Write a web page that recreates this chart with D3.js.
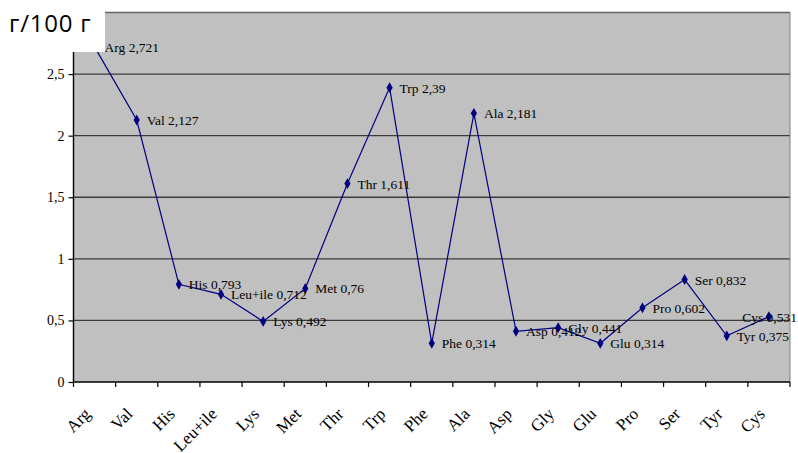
<!DOCTYPE html>
<html>
<head>
<meta charset="utf-8">
<script src="https://cdn.jsdelivr.net/npm/d3@7"></script>
<style>
  html, body { margin: 0; padding: 0; background: #fff; }
  svg { display: block; }
</style>
</head>
<body>
<svg id="chart" width="798" height="453"></svg>
<script>
// Amino acid content, g per 100 g
const aminoAcids = ["Arg", "Val", "His", "Leu+ile", "Lys", "Met", "Thr", "Trp", "Phe",
                    "Ala", "Asp", "Gly", "Glu", "Pro", "Ser", "Tyr", "Cys"];
const contents = [2.721, 2.127, 0.793, 0.712, 0.492, 0.76, 1.611, 2.39, 0.314,
                  2.181, 0.412, 0.441, 0.314, 0.602, 0.832, 0.375, 0.531];
const yTicks = [0, 0.5, 1, 1.5, 2, 2.5, 3];
const unitTitle = "г/100 г";

const W = 798, H = 453;
const plot = { left: 73.5, right: 790, top: 12.5, bottom: 382 };
const serif = "'Liberation Serif', 'Times New Roman', serif";
const fmt = v => String(v).replace(".", ",");

const svg = d3.select("#chart");

const x = d3.scaleBand().domain(aminoAcids).range([plot.left, plot.right]);
const y = d3.scaleLinear().domain([0, 3]).range([plot.bottom, plot.top]);

// plot area
svg.append("rect")
  .attr("x", plot.left).attr("y", plot.top)
  .attr("width", plot.right - plot.left).attr("height", plot.bottom - plot.top)
  .attr("fill", "#c0c0c0");

// horizontal gridlines
svg.append("g").selectAll("line").data(yTicks.filter(d => d > 0)).join("line")
  .attr("x1", plot.left).attr("x2", plot.right)
  .attr("y1", d => y(d)).attr("y2", d => y(d))
  .attr("stroke", d => d === 3 ? "#666" : "#3a3a3a")
  .attr("stroke-width", d => d === 3 ? 1.5 : 1.4);

// right frame edge
svg.append("line")
  .attr("x1", plot.right).attr("x2", plot.right)
  .attr("y1", plot.top).attr("y2", plot.bottom)
  .attr("stroke", "#808080").attr("stroke-width", 1);

// y axis
const yAxis = d3.axisLeft(y).tickValues(yTicks.filter(d => d < 3))
  .tickSize(5).tickPadding(4).tickFormat(fmt);
const gy = svg.append("g").attr("transform", `translate(${plot.left},0)`).call(yAxis);
gy.select(".domain").attr("stroke", "#000").attr("stroke-width", 1.4)
  .attr("d", `M0,${plot.top}V${plot.bottom}`);
gy.selectAll(".tick line").attr("stroke", "#000").attr("stroke-width", 1.2);
gy.selectAll(".tick text").attr("font-family", serif).attr("font-size", 14)
  .attr("fill", "#000");

// x axis: ticks at band boundaries, rotated category names
const gx = svg.append("g").attr("transform", `translate(0,${plot.bottom})`);
gx.append("line").attr("x1", plot.left).attr("x2", plot.right)
  .attr("stroke", "#000").attr("stroke-width", 1.4);
const bounds = aminoAcids.map(d => x(d)).concat([plot.right]);
gx.selectAll("line.tk").data(bounds).join("line").attr("class", "tk")
  .attr("x1", d => d).attr("x2", d => d).attr("y1", 0).attr("y2", 5)
  .attr("stroke", "#000").attr("stroke-width", 1.2);
gx.selectAll("text").data(aminoAcids).join("text")
  .attr("transform", d => `translate(${x(d) + x.bandwidth() / 2 - 3},${33}) rotate(-45)`)
  .attr("text-anchor", "end")
  .attr("font-family", serif).attr("font-size", 17).attr("fill", "#000")
  .text(d => d);

// series line and markers
const pts = aminoAcids.map((d, i) => ({ name: d, v: contents[i], cx: x(d) + x.bandwidth() / 2, cy: y(contents[i]) }));
svg.append("path")
  .attr("d", d3.line().x(d => d.cx).y(d => d.cy)(pts))
  .attr("fill", "none").attr("stroke", "#000080").attr("stroke-width", 1.2);
svg.append("g").selectAll("path").data(pts).join("path")
  .attr("transform", d => `translate(${d.cx},${d.cy})`)
  .attr("d", d3.symbol(d3.symbolDiamond, 34))
  .attr("fill", "#000080");

// unit title box over the top-left corner
svg.append("rect").attr("x", 0).attr("y", 0).attr("width", 105).attr("height", 52)
  .attr("fill", "#fff");
svg.append("text").attr("x", 9).attr("y", 32)
  .attr("font-family", "'Open Sans', 'Noto Sans', sans-serif").attr("font-size", 24)
  .attr("letter-spacing", 0.8)
  .attr("fill", "#000").text(unitTitle);

// data labels
const labels = svg.append("g").selectAll("text").data(pts).join("text")
  .attr("font-family", serif).attr("font-size", 13.5).attr("fill", "#000")
  .attr("y", d => d.cy + 5)
  .text(d => `${d.name} ${fmt(d.v)}`);
labels.attr("x", function (d) {
  const w = this.getComputedTextLength();
  return Math.min(d.cx + 10, W - 1 - w);
});
</script>
</body>
</html>
